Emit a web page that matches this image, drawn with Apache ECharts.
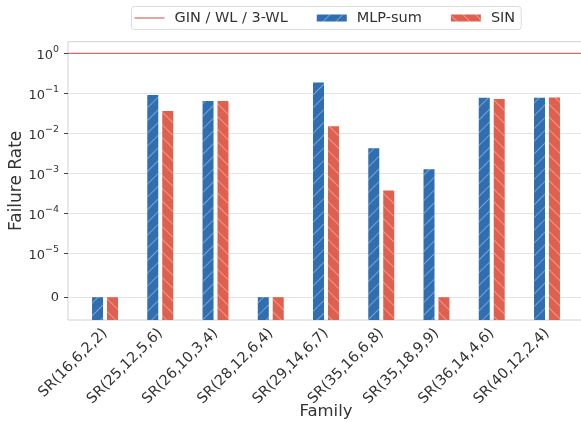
<!DOCTYPE html>
<html><head><meta charset="utf-8">
<script src="https://cdn.jsdelivr.net/npm/echarts@6/dist/echarts.min.js"></script>
<style>html,body{margin:0;padding:0;background:#fff}#c{width:581px;height:422px}</style>
</head><body><div id="c"></div>
<script>
var categories = ['SR(16,6,2,2)','SR(25,12,5,6)','SR(26,10,3,4)','SR(28,12,6,4)','SR(29,14,6,7)','SR(35,16,6,8)','SR(35,18,9,9)','SR(36,14,4,6)','SR(40,12,2,4)'];
var mlpSum = [0, 0.091, 0.064, 0, 0.185, 0.0042, 0.00126, 0.077, 0.077];
var sin = [0, 0.036, 0.064, 0, 0.015, 0.00037, 0, 0.072, 0.078];
var baselineValue = 1; // GIN / WL / 3-WL
var tickExponents = [0, -1, -2, -3, -4, -5];
var zeroLabel = '0';

// symlog-like transform: log10(v); zero placed 1.1 decades below 1e-5
var ZERO_POS = -6.1;
var AX_MIN = -6.67, AX_MAX = 0.29;
var BASE = -AX_MIN;
function tr(v){ return (v > 0 ? Math.log10(v) : ZERO_POS) + BASE; }

var tickVals = tickExponents.map(function(e){ return e + BASE; }).concat([ZERO_POS + BASE]);
var supMap = {'0':'0','-1':'−1','-2':'−2','-3':'−3','-4':'−4','-5':'−5'};

var hatch = function(rot, col){
  return { symbol:'rect', symbolSize:1, dashArrayX:[1,0], dashArrayY:[1,7.5], rotation:rot, color:col };
};
var F = 'DejaVu Sans';
var chart = echarts.init(document.getElementById('c'), null, {renderer:'canvas'});
chart.setOption({
  backgroundColor:'#fff',
  animation:false,
  textStyle:{fontFamily:F},
  legend:{
    left:131.5, top:6.5,
    padding:[4,6,4,3],
    itemGap:29, itemWidth:30, itemHeight:7,
    backgroundColor:'#fff', borderColor:'#dcdcdc', borderWidth:1, borderRadius:3,
    textStyle:{fontFamily:F, fontSize:14.5, color:'#333', padding:[0,0,0,5]},
    data:[
      {name:'GIN / WL / 3-WL', icon:'path://M0,0h30v1.2h-30z'},
      {name:'MLP-sum', icon:'rect'},
      {name:'SIN', icon:'rect'}
    ]
  },
  grid:{left:68, top:41.7, width:516, height:278.3, show:true, borderColor:'#d2d2d2', borderWidth:1, backgroundColor:'#fff', outerBoundsMode:'none', containLabel:false},
  xAxis:{
    type:'value', min:-0.67, max:8.67,
    name:'Family', nameLocation:'middle', nameGap:83, nameMoveOverlap:false,
    nameTextStyle:{fontFamily:F, fontSize:16.5, color:'#333'},
    axisLine:{show:false, onZero:false}, axisTick:{show:false}, splitLine:{show:false},
    axisLabel:{
      customValues:[0,1,2,3,4,5,6,7,8],
      rotate:45, margin:11, fontFamily:F, fontSize:14.5, color:'#333',
      formatter:function(v){ return categories[Math.round(v)] || ''; }
    }
  },
  yAxis:{
    type:'value', min:0, max:AX_MAX + BASE,
    name:'Failure Rate', nameLocation:'middle', nameGap:43, nameRotate:90, nameMoveOverlap:false,
    nameTextStyle:{fontFamily:F, fontSize:17, color:'#333'},
    axisLine:{show:false, onZero:false},
    axisTick:{show:true, customValues:tickVals, length:4, lineStyle:{color:'#444', width:1}},
    splitLine:{show:true, lineStyle:{color:'#e4e4e4', width:1}},
    axisLabel:{
      customValues:tickVals, margin:9, fontFamily:F, color:'#333',
      formatter:function(v){
        var e = Math.round((v - BASE)*10)/10;
        if (Math.abs(e - ZERO_POS) < 0.01) return '{b|' + zeroLabel + '}';
        return '{b|10}{s|' + supMap[String(Math.round(e))] + '}';
      },
      rich:{
        b:{fontFamily:F, fontSize:13, color:'#333', verticalAlign:'bottom'},
        s:{fontFamily:F, fontSize:9.5, color:'#333', verticalAlign:'bottom', padding:[0,0,7,0]}
      }
    }
  },
  series:[
    {
      name:'GIN / WL / 3-WL', type:'line', showSymbol:false, silent:true,
      data:[[-0.67, tr(baselineValue)],[8.67, tr(baselineValue)]],
      lineStyle:{color:'#d8676b', width:1.2}, itemStyle:{color:'#d8676b'}, z:5
    },
    {
      name:'MLP-sum', type:'bar', barWidth:11, barGap:'36%',
      data:mlpSum.map(function(v,i){ return [i, tr(v)]; }),
      itemStyle:{color:'#2f6eb1', decal:hatch(-Math.PI/4,'rgba(255,255,255,0.35)')}
    },
    {
      name:'SIN', type:'bar', barWidth:11, barGap:'36%',
      data:sin.map(function(v,i){ return [i, tr(v)]; }),
      itemStyle:{color:'#e0604f', decal:hatch(Math.PI/4,'rgba(255,255,255,0.35)')}
    }
  ]
});
</script></body></html>
